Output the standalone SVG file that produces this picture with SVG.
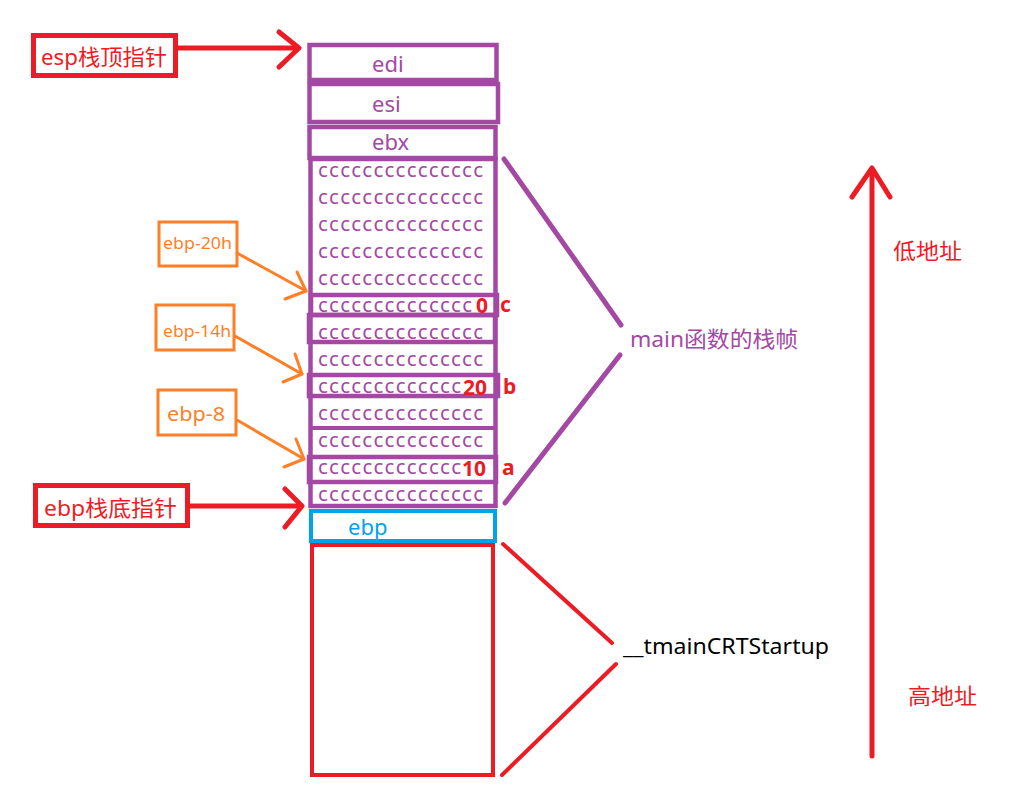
<svg xmlns="http://www.w3.org/2000/svg" width="1025" height="793" viewBox="0 0 1025 793">
<style>
text{font-family:"Noto Sans","Noto Sans CJK SC",sans-serif}
.pb{fill:none;stroke:#a349a4;stroke-width:4.5}
.pl{stroke:#a349a4;stroke-width:4;fill:none}
.pt{fill:#a349a4;font-size:22px}
.cc{fill:#a349a4;font-size:20.5px}
.rt{fill:#ed1c24;font-size:22px}
.num{fill:#ed1c24;font-size:21px;font-weight:bold}
.ot{fill:#ff7f27}
.ob{fill:none;stroke:#ff7f27;stroke-width:3}
.oa{stroke:#ff7f27;stroke-width:3;fill:none;stroke-linecap:round;stroke-linejoin:round}
.ra{stroke:#ed1c24;stroke-width:5;fill:none;stroke-linecap:round;stroke-linejoin:round}
.rb{fill:none;stroke:#ed1c24;stroke-width:5}
</style>
<rect width="1025" height="793" fill="#ffffff"/>

<g id="esp-label">
<rect class="rb" x="33.5" y="35.5" width="142" height="40"/>
<text class="rt" x="41" y="65" textLength="126" lengthAdjust="spacingAndGlyphs">esp栈顶指针</text>
</g>
<g id="ebp-label">
<rect class="rb" x="35.5" y="485.5" width="152" height="40"/>
<text class="rt" x="44" y="516" textLength="133" lengthAdjust="spacingAndGlyphs">ebp栈底指针</text>
</g>

<g id="edi"><rect class="pb" x="309.5" y="45" width="187" height="35"/><text class="pt" x="372" y="72">edi</text></g>
<g id="esi"><rect class="pb" x="309.5" y="84" width="188.5" height="38"/><text class="pt" x="372" y="112">esi</text></g>
<g id="ebx"><rect class="pb" x="309.5" y="127" width="186" height="31"/><text class="pt" x="372" y="150">ebx</text></g>

<g id="main-frame">
<rect class="pb" x="310.5" y="159" width="185" height="347"/>
<line class="pl" x1="310" y1="428" x2="496" y2="428"/>
<rect class="pb" x="311" y="295" width="186" height="20"/>
<rect class="pb" x="309" y="315" width="186" height="27"/>
<rect class="pb" x="309" y="375" width="189" height="21"/>
<rect class="pb" x="309" y="457" width="187" height="25"/>
<g class="cc">
<text x="318" y="177" textLength="165" lengthAdjust="spacing">ccccccccccccccc</text>
<text x="318" y="204" textLength="165" lengthAdjust="spacing">ccccccccccccccc</text>
<text x="318" y="231" textLength="165" lengthAdjust="spacing">ccccccccccccccc</text>
<text x="318" y="258" textLength="165" lengthAdjust="spacing">ccccccccccccccc</text>
<text x="318" y="285" textLength="165" lengthAdjust="spacing">ccccccccccccccc</text>
<text x="318" y="312" textLength="154" lengthAdjust="spacing">cccccccccccccc</text>
<text x="318" y="339" textLength="165" lengthAdjust="spacing">ccccccccccccccc</text>
<text x="318" y="366" textLength="165" lengthAdjust="spacing">ccccccccccccccc</text>
<text x="318" y="393" textLength="143" lengthAdjust="spacing">ccccccccccccc</text>
<text x="318" y="420" textLength="165" lengthAdjust="spacing">ccccccccccccccc</text>
<text x="318" y="447" textLength="165" lengthAdjust="spacing">ccccccccccccccc</text>
<text x="318" y="474" textLength="143" lengthAdjust="spacing">ccccccccccccc</text>
<text x="318" y="501" textLength="165" lengthAdjust="spacing">ccccccccccccccc</text>
</g>
<text class="num" x="476" y="313">0</text>
<text class="num" x="500" y="312" font-size="18">c</text>
<text class="num" x="463" y="395">20</text>
<text class="num" x="503" y="394">b</text>
<text class="num" x="462" y="476">10</text>
<text class="num" x="502" y="475">a</text>
</g>

<g id="ebp-slot"><rect fill="none" stroke="#00a2e8" stroke-width="4" x="311" y="511" width="184" height="30"/><text x="348" y="535" fill="#00a2e8" font-size="22">ebp</text></g>
<g id="caller-frame"><rect fill="none" stroke="#ed1c24" stroke-width="4" x="312" y="545" width="181" height="230"/></g>

<g id="off-20h"><rect class="ob" x="159" y="222" width="78" height="44"/><text class="ot" x="163" y="249" font-size="17" textLength="69" lengthAdjust="spacingAndGlyphs">ebp-20h</text></g>
<g id="off-14h"><rect class="ob" x="156" y="305" width="78" height="45"/><text class="ot" x="163" y="337" font-size="17" textLength="68" lengthAdjust="spacingAndGlyphs">ebp-14h</text></g>
<g id="off-8"><rect class="ob" x="158" y="390" width="78" height="45"/><text class="ot" x="167" y="421" font-size="20" textLength="58" lengthAdjust="spacingAndGlyphs">ebp-8</text></g>

<g id="labels">
<text class="pt" x="630" y="347" textLength="168" lengthAdjust="spacingAndGlyphs">main函数的栈帧</text>
<text x="623" y="654" fill="#000000" font-size="22" textLength="206" lengthAdjust="spacingAndGlyphs">__tmainCRTStartup</text>
<text class="rt" x="893" y="259" textLength="69" lengthAdjust="spacingAndGlyphs">低地址</text>
<text class="rt" x="908" y="704" textLength="69" lengthAdjust="spacingAndGlyphs">高地址</text>
</g>

<g id="connectors">
<line class="ra" x1="178" y1="48" x2="298" y2="48"/>
<polyline class="ra" points="279,32 299,48 279,67"/>
<line class="ra" x1="190" y1="506" x2="300" y2="506"/>
<polyline class="ra" points="285,489 302,506 285,527"/>
<line class="oa" x1="237" y1="253" x2="306" y2="291"/>
<polyline class="oa" points="297,272 306,291 285,299"/>
<line class="oa" x1="235" y1="336" x2="302" y2="374"/>
<polyline class="oa" points="295,354 302,374 283,382"/>
<line class="oa" x1="237" y1="420" x2="304" y2="459"/>
<polyline class="oa" points="296,439 304,459 284,467"/>
<line stroke="#a349a4" stroke-width="5" stroke-linecap="round" x1="504" y1="159" x2="621" y2="325"/>
<line stroke="#a349a4" stroke-width="5" stroke-linecap="round" x1="620" y1="355" x2="505" y2="503"/>
<line stroke="#ed1c24" stroke-width="4" stroke-linecap="round" x1="503" y1="544" x2="612" y2="643"/>
<line stroke="#ed1c24" stroke-width="4" stroke-linecap="round" x1="616" y1="664" x2="502" y2="775"/>
<line class="ra" x1="872" y1="170" x2="872" y2="756"/>
<polyline class="ra" points="852,197 872,168 890,197"/>
</g>
</svg>
